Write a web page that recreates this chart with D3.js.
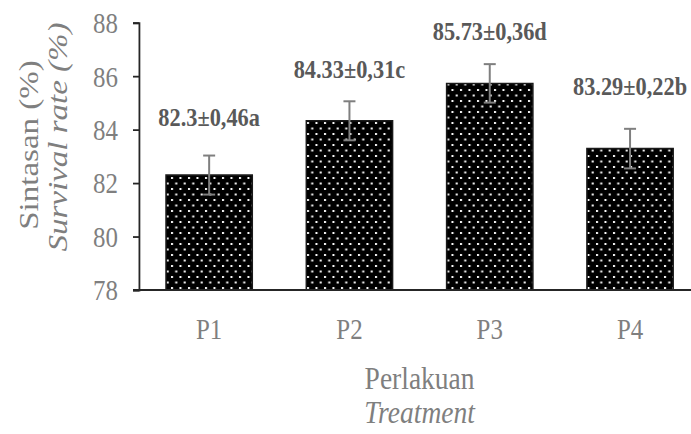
<!DOCTYPE html>
<html><head><meta charset="utf-8">
<script src="https://cdn.jsdelivr.net/npm/d3@7"></script>
<style>html,body{margin:0;padding:0;background:#fff;overflow:hidden}</style>
</head><body>
<script>
const categories = ["P1","P2","P3","P4"];
const means = [82.3, 84.33, 85.73, 83.29];
const errors = [0.73, 0.73, 0.72, 0.74];
const labels = ["82.3±0,46a","84.33±0,31c","85.73±0,36d","83.29±0,22b"];
const labelLift = [49, 43, 43, 54];
const yTicks = [78, 80, 82, 84, 86, 88];

const W = 691, H = 434, k = 0.86;
const VW = W / k;
const px = v => v / k;

const svg = d3.select("body").append("svg")
  .attr("width", W).attr("height", H)
  .attr("viewBox", `0 0 ${VW} ${H}`)
  .attr("preserveAspectRatio", "none")
  .style("display","block");

const defs = svg.append("defs");
const pw = px(8.5), ph = 11;
const pat = defs.append("pattern").attr("id","dots")
  .attr("patternUnits","userSpaceOnUse").attr("width",pw).attr("height",ph);
pat.append("rect").attr("width",pw).attr("height",ph).attr("fill","#000");
pat.append("rect").attr("x",px(1)).attr("y",1).attr("width",px(2)).attr("height",2).attr("fill","#fff");
pat.append("rect").attr("x",px(1)+pw/2).attr("y",1+ph/2).attr("width",px(2)).attr("height",2).attr("fill","#fff");

const axisX = px(139);
const x = d3.scaleBand().domain(categories).range([axisX, px(700.2)])
  .paddingInner(0.385).paddingOuter(0.1925);
const y = d3.scaleLinear().domain([78, 88]).range([290, 22.7]);

const font = "'Liberation Serif','Times New Roman',serif";

// bars
svg.selectAll("rect.bar").data(categories).enter().append("rect")
  .attr("class","bar")
  .attr("x", d => x(d)).attr("width", x.bandwidth())
  .attr("y", (d,i) => y(means[i])).attr("height", (d,i) => y(78) - y(means[i]))
  .attr("fill","url(#dots)").attr("stroke","#1a1a1a").attr("stroke-width",1.5)
  .attr("vector-effect","non-scaling-stroke");

// error bars
const eg = svg.append("g").attr("stroke","#7f7f7f").attr("stroke-width",2)
  .attr("fill","none");
categories.forEach((c,i) => {
  const cx = x(c) + x.bandwidth()/2;
  const t = y(means[i] + errors[i]), b = y(means[i] - errors[i]);
  eg.append("line").attr("x1",cx).attr("x2",cx).attr("y1",t).attr("y2",b)
    .attr("stroke-width", 2/k);
  eg.append("line").attr("x1",cx-px(6)).attr("x2",cx+px(6)).attr("y1",t).attr("y2",t);
  eg.append("line").attr("x1",cx-px(6)).attr("x2",cx+px(6)).attr("y1",b).attr("y2",b);
});

// y axis
const yAxis = d3.axisLeft(y).tickValues(yTicks).tickSize(px(6)).tickPadding(px(15));
const gy = svg.append("g").attr("transform",`translate(${axisX},0)`).call(yAxis);
gy.select(".domain").attr("stroke","#262626").attr("stroke-width",1.8/k);
gy.selectAll(".tick line").attr("stroke","#262626").attr("stroke-width",1.8);
gy.selectAll(".tick text").attr("font-family",font).attr("font-size",29)
  .attr("fill","#7f7f7f").attr("dy","0.34em");

// x axis line
const gx = svg.append("g").attr("transform",`translate(0,${y(78)})`)
  .call(d3.axisBottom(x).tickSize(0).tickPadding(28));
gx.select(".domain").attr("stroke","#262626").attr("stroke-width",1.8)
  .attr("d", `M${px(133)},0H${px(700.2)}`);
gx.selectAll(".tick text").attr("font-family",font).attr("font-size",29)
  .attr("fill","#7f7f7f").attr("dy","0.71em");

// value labels
svg.selectAll("text.lab").data(categories).enter().append("text")
  .attr("class","lab")
  .attr("x", d => x(d) + x.bandwidth()/2)
  .attr("y", (d,i) => y(means[i]) - labelLift[i])
  .attr("text-anchor","middle")
  .attr("font-family",font).attr("font-weight","bold").attr("font-size",26)
  .attr("fill","#595959")
  .text((d,i) => labels[i]);

// x title
const cxT = (axisX + px(700.2)) / 2;
svg.append("text").attr("x",cxT).attr("y",389).attr("text-anchor","middle")
  .attr("font-family",font).attr("font-size",32).attr("fill","#7f7f7f").text("Perlakuan");
svg.append("text").attr("x",cxT).attr("y",423).attr("text-anchor","middle")
  .attr("font-family",font).attr("font-style","italic").attr("font-size",32).attr("fill","#7f7f7f").text("Treatment");

// y title
const yt = svg.append("g").attr("transform",`translate(${px(38)},145) rotate(-90)`);
yt.append("text").attr("x",0).attr("y",0).attr("text-anchor","middle")
  .attr("font-family",font).attr("font-size",33).attr("fill","#7f7f7f").text("Sintasan (%)");
const yt2 = svg.append("g").attr("transform",`translate(${px(67)},137) rotate(-90)`);
yt2.append("text").attr("x",0).attr("y",0).attr("text-anchor","middle")
  .attr("font-family",font).attr("font-style","italic").attr("font-size",33).attr("fill","#7f7f7f").text("Survival rate (%)");
</script>
</body></html>
